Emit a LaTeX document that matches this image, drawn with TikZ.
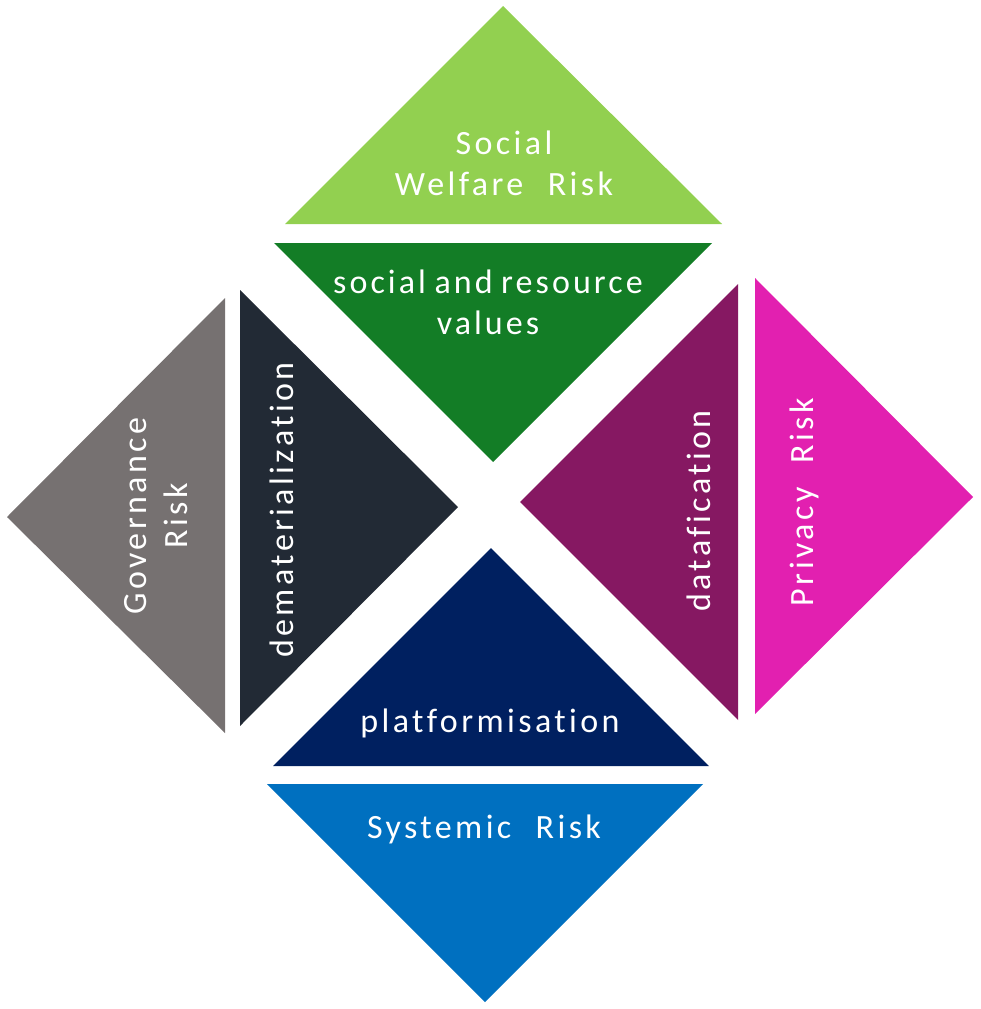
\documentclass[tikz,border=0pt]{standalone}
\usepackage{fontspec}
\setmainfont{Carlito}[LetterSpace=10, WordSpace=2.2, Ligatures=NoCommon]
\newfontfamily\tightfont{Carlito}[LetterSpace=9, WordSpace=0.8, Ligatures=NoCommon]
\usepackage{tikz}
\usetikzlibrary{positioning}

\definecolor{lightgreen}{HTML}{92D050}
\definecolor{darkgreen}{RGB}{19,125,38}
\definecolor{warmgrey}{HTML}{767171}
\definecolor{charcoal}{HTML}{222A35}
\definecolor{plum}{RGB}{134,24,98}
\definecolor{pink}{RGB}{226,32,176}
\definecolor{navy}{HTML}{002060}
\definecolor{office blue}{HTML}{0070C0}

\begin{document}
\begin{tikzpicture}[
x=1pt, y=-1pt,
piece/.style={draw=none},
txt/.style={text=white, align=center, inner sep=0pt, font=\fontsize{34}{41}\selectfont},
up/.style={txt, rotate=90}
]
\useasboundingbox (0,0) rectangle (980,1009);

% outer triangles: the risks
\fill[piece, lightgreen] (503,6) -- (722,224) -- (285,224) -- cycle;
\fill[piece, warmgrey] (7,517) -- (225,298) -- (225,733) -- cycle;
\fill[piece, pink] (755,278) -- (973,497) -- (755,714) -- cycle;
\fill[piece, office blue] (267,784) -- (703,784) -- (485,1002) -- cycle;

% inner triangles
\fill[piece, darkgreen] (274,243) -- (712,243) -- (493,462) -- cycle;
\fill[piece, charcoal] (240,290) -- (458,507) -- (240,726) -- cycle;
\fill[piece, plum] (520,502) -- (738,284) -- (738,720) -- cycle;
\fill[piece, navy] (491,548) -- (709,766) -- (273,766) -- cycle;

\node[txt] (welfare) at (504,163) {Social\\Welfare Risk};
\node[txt, font=\tightfont\fontsize{34}{41}\selectfont] (values) at (488,302) {social and resource\\values};
\node[up] (governance) at (156,516) {Governance\\Risk};
\node[up, anchor=base] (demat) at (293,510) {dematerialization};
\node[up, anchor=base] (datafic) at (710,511) {datafication};
\node[up, anchor=base] (privacy) at (813,502) {Privacy Risk};
\node[txt, anchor=base] (platform) at (490,732) {platformisation};
\node[txt, anchor=base] (systemic) at (484,838) {Systemic Risk};

\end{tikzpicture}
\end{document}
